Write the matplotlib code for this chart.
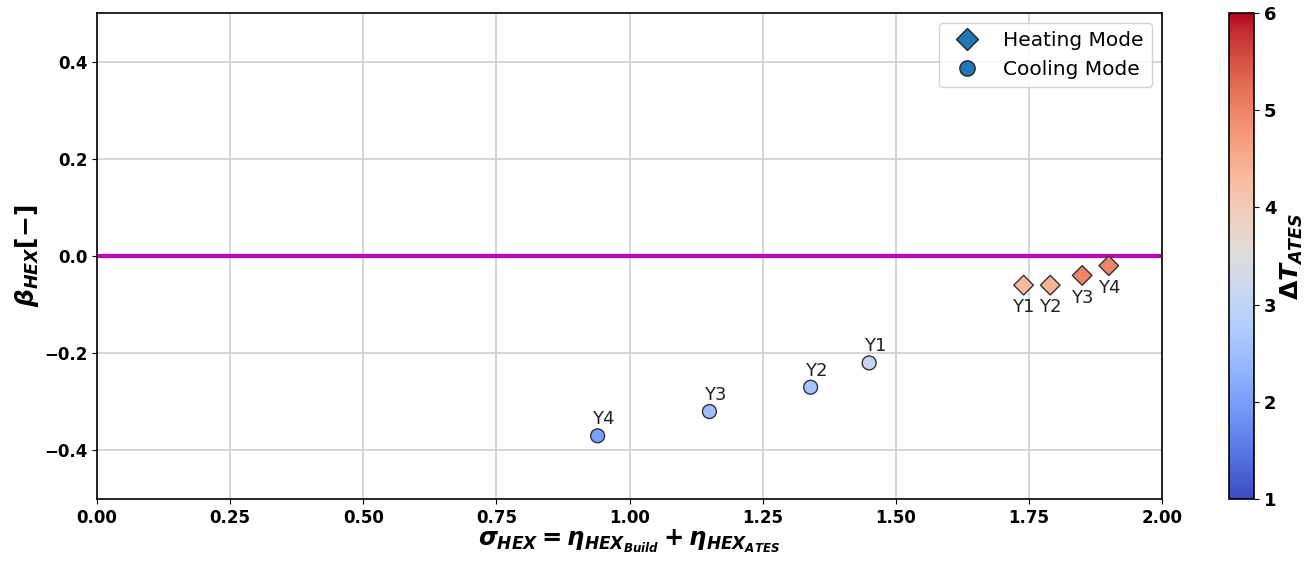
import matplotlib
matplotlib.use("Agg")
import matplotlib.pyplot as plt
import numpy as np
from matplotlib.lines import Line2D

plt.rcParams['mathtext.fontset'] = 'custom'
plt.rcParams['mathtext.it'] = 'DejaVu Sans:bold:italic'
plt.rcParams['mathtext.rm'] = 'DejaVu Sans:bold'
plt.rcParams['mathtext.bf'] = 'DejaVu Sans:bold'

# Data
heat_labels = ["Y1", "Y2", "Y3", "Y4"]
heat_sigma = [1.74, 1.79, 1.85, 1.90]
heat_beta = [-0.06, -0.06, -0.04, -0.02]
heat_dT = [4.3, 4.4, 5.0, 5.0]

cool_labels = ["Y1", "Y2", "Y3", "Y4"]
cool_sigma = [1.45, 1.34, 1.15, 0.94]
cool_beta = [-0.22, -0.27, -0.32, -0.37]
cool_dT = [3.1, 2.6, 2.5, 2.0]

xticks = [0.00, 0.25, 0.50, 0.75, 1.00, 1.25, 1.50, 1.75, 2.00]
yticks = [-0.4, -0.2, 0.0, 0.2, 0.4]
cbar_ticks = [1, 2, 3, 4, 5, 6]

fig = plt.figure(figsize=(13.15, 5.65), dpi=100)
ax = fig.add_axes([0.0738, 0.1168, 0.8099, 0.8602])
cax = fig.add_axes([0.9346, 0.1168, 0.019, 0.8602])

cmap = plt.get_cmap('coolwarm')
norm = matplotlib.colors.Normalize(vmin=1, vmax=6)

ax.grid(True, color='#d0d0d0', linewidth=1.2)
ax.axhline(0, color='m', linewidth=3, zorder=2)

ax.scatter(heat_sigma, heat_beta, c=heat_dT, cmap=cmap, norm=norm, marker='D',
           s=100, edgecolors='#333333', linewidths=1, zorder=3)
ax.scatter(cool_sigma, cool_beta, c=cool_dT, cmap=cmap, norm=norm, marker='o',
           s=100, edgecolors='#333333', linewidths=1, zorder=3)

for lab, x, y in zip(heat_labels, heat_sigma, heat_beta):
    ax.annotate(lab, (x, y), xytext=(0, -16), textcoords='offset points',
                ha='center', va='center', fontsize=13, color='#222222')
for lab, x, y in zip(cool_labels, cool_sigma, cool_beta):
    ax.annotate(lab, (x, y), xytext=(4, 12), textcoords='offset points',
                ha='center', va='center', fontsize=13, color='#222222')

ax.set_xlim(0, 2)
ax.set_ylim(-0.5, 0.5)
ax.set_xticks(xticks)
ax.set_yticks(yticks)
ax.set_xticklabels([f"{t:.2f}" for t in xticks], fontweight='bold', fontsize=12)
ax.set_yticklabels([f"{t:.1f}".replace("-", "\u2212") for t in yticks], fontweight='bold', fontsize=12)
for sp in ax.spines.values():
    sp.set_linewidth(1.2)

ax.set_xlabel(r"$\sigma_{HEX} = \eta_{HEX_{Build}} + \eta_{HEX_{ATES}}$", fontsize=17.5, labelpad=1)
ax.set_ylabel(r"$\beta_{HEX} [-]$", fontsize=18, labelpad=2)

handles = [
    Line2D([], [], marker='D', linestyle='None', markersize=11, markerfacecolor='#1f77b4',
           markeredgecolor='#222222', label='Heating Mode'),
    Line2D([], [], marker='o', linestyle='None', markersize=11, markerfacecolor='#1f77b4',
           markeredgecolor='#222222', label='Cooling Mode'),
]
ax.legend(handles=handles, loc='upper right', fontsize=14.5, framealpha=0.9)

cb = fig.colorbar(matplotlib.cm.ScalarMappable(norm=norm, cmap=cmap), cax=cax, ticks=cbar_ticks)
cb.ax.set_yticklabels([str(t) for t in cbar_ticks], fontweight='bold', fontsize=13)
cb.set_label(r"$\Delta T_{ATES}$", fontsize=18, labelpad=2)
cb.outline.set_linewidth(1.2)

fig.savefig("out.png", dpi=100)
